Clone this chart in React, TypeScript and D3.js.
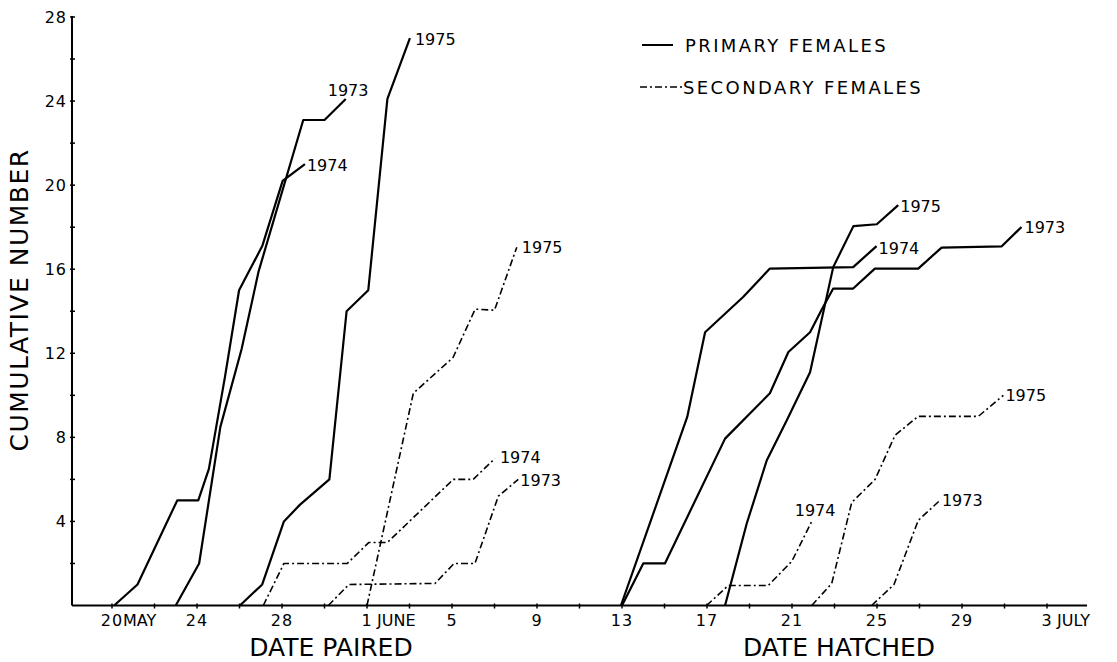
import React from 'react';
import * as d3 from 'd3';

// x values are days counted from 20 May (1 June = 12, 13 June = 24, 3 July = 44)
const primaryPaired1973: [number, number][] = [[3.0, 0], [4.1, 2], [5.1, 8.5], [6.1, 12.2], [6.9, 15.9], [9.0, 23.1], [10.0, 23.1], [11.0, 24.1]];
const primaryPaired1974: [number, number][] = [[0.1, 0], [1.2, 1], [3.07, 5], [4.06, 5], [4.56, 6.5], [5.32, 10.9], [5.98, 15.0], [7.07, 17.1], [8.03, 20.2], [9.08, 21]];
const primaryPaired1975: [number, number][] = [[6.02, 0], [7.07, 1], [8.09, 4], [8.85, 4.8], [10.23, 6], [11.04, 14], [12.06, 15], [12.96, 24.1], [14.02, 27]];

const secondaryPaired1973: [number, number][] = [[10.18, 0], [11.15, 1], [15.2, 1.05], [16.1, 2], [17.08, 2], [18.18, 5.2], [19.12, 6]];
const secondaryPaired1974: [number, number][] = [[7.12, 0], [8.09, 2], [11.07, 2], [12.09, 3], [12.96, 3], [16.06, 6], [17.0, 6], [18.02, 7]];
const secondaryPaired1975: [number, number][] = [[12.0, 0], [14.18, 10.1], [16.05, 11.8], [17.09, 14.1], [18.0, 14.05], [19.05, 17.05]];

const primaryHatched1973: [number, number][] = [[24.0, 0], [25.0, 2], [26.02, 2], [28.85, 7.94], [30.96, 10.1], [31.83, 12.06], [32.85, 13], [33.4, 14.08], [33.94, 15.08], [34.88, 15.08], [35.9, 16.03], [37.94, 16.03], [39.04, 17.03], [41.87, 17.09], [42.8, 18.01]];
const primaryHatched1974: [number, number][] = [[23.95, 0], [27.07, 8.97], [27.91, 13], [29.7, 14.68], [30.96, 16.03], [34.88, 16.1], [35.98, 17.1]];
const primaryHatched1975: [number, number][] = [[28.85, 0], [29.87, 3.9], [30.81, 6.9], [31.75, 8.8], [32.85, 11.1], [33.94, 16.1], [34.89, 18.05], [35.99, 18.14], [37.0, 19.05]];

const secondaryHatched1973: [number, number][] = [[35.75, 0], [36.8, 1], [37.94, 4.05], [38.96, 5]];
const secondaryHatched1974: [number, number][] = [[27.98, 0], [29.0, 0.95], [30.88, 0.95], [31.99, 2.1], [32.93, 4]];
const secondaryHatched1975: [number, number][] = [[32.93, 0], [33.87, 1.05], [34.81, 4.9], [35.91, 6], [36.85, 8.1], [37.94, 9], [40.77, 9], [41.95, 10]];

const dayTicks = [0, 4, 8, 12, 16, 20, 24, 28, 32, 36, 40, 44];
const dayTickNumbers = ['20', '24', '28', '1', '5', '9', '13', '17', '21', '25', '29', '3'];
const dayTickMonths = ['MAY', '', '', 'JUNE', '', '', '', '', '', '', '', 'JULY'];
const valueTicks = [4, 8, 12, 16, 20, 24, 28];

const FONT = '"DejaVu Sans", sans-serif';
const DASH = '7,3,2,3';

export default function App() {
  const width = 1117;
  const height = 662;

  const x = d3.scaleLinear().domain([0, 44]).range([112, 1047]);
  const y = d3.scaleLinear().domain([0, 28]).range([605.5, 17]);
  const line = d3.line<[number, number]>().x(d => x(d[0])).y(d => y(d[1]));

  // label offsets from the last point of each curve
  const series = [
    { data: primaryPaired1973, year: '1973', dash: false, dx: -18, dy: -3 },
    { data: primaryPaired1974, year: '1974', dash: false, dx: 2, dy: 7 },
    { data: primaryPaired1975, year: '1975', dash: false, dx: 5, dy: 7 },
    { data: secondaryPaired1973, year: '1973', dash: true, dx: 2, dy: 7 },
    { data: secondaryPaired1974, year: '1974', dash: true, dx: 5, dy: 5 },
    { data: secondaryPaired1975, year: '1975', dash: true, dx: 5, dy: 6 },
    { data: primaryHatched1973, year: '1973', dash: false, dx: 3, dy: 6 },
    { data: primaryHatched1974, year: '1974', dash: false, dx: 2, dy: 8 },
    { data: primaryHatched1975, year: '1975', dash: false, dx: 2, dy: 7 },
    { data: secondaryHatched1973, year: '1973', dash: true, dx: 2, dy: 6 },
    { data: secondaryHatched1974, year: '1974', dash: true, dx: -17, dy: -5 },
    { data: secondaryHatched1975, year: '1975', dash: true, dx: 2, dy: 6 },
  ];

  const minorDays = d3.range(0, 45, 2);
  const minorValues = d3.range(2, 29, 2);
  const x0 = 72;
  const y0 = y(0);

  return (
    <div style={{ position: 'absolute', left: 0, top: 0 }}>
      <svg width={width} height={height} style={{ display: 'block', background: '#fff' }}>
        {/* axes */}
        <line x1={x0} x2={x0} y1={y(28) - 1} y2={y0} stroke="#000" strokeWidth={2} />
        <line x1={x0} x2={1087} y1={y0} y2={y0} stroke="#000" strokeWidth={2} />
        {minorValues.map(v => (
          <line key={'yt' + v} x1={x0 - 2} x2={x0 + 3} y1={y(v)} y2={y(v)} stroke="#000" strokeWidth={1.5} />
        ))}
        {minorDays.map(d => (
          <line key={'xt' + d} x1={x(d)} x2={x(d)} y1={y0 - 2} y2={y0 + 3} stroke="#000" strokeWidth={1.5} />
        ))}
        {valueTicks.map(v => (
          <text key={'yl' + v} x={x0 - 5} y={y(v)} dy="0.36em" textAnchor="end" fontFamily={FONT} fontSize={16} letterSpacing={1}>{v}</text>
        ))}
        {dayTicks.map((d, i) => (
          <g key={'xl' + d} fontFamily={FONT} fontSize={16}>
            <text x={x(d)} y={626} textAnchor="middle" letterSpacing={1}>{dayTickNumbers[i]}</text>
            {dayTickMonths[i] && (
              <text x={x(d) + (dayTickNumbers[i].length === 1 ? 10 : 11)} y={626}>{dayTickMonths[i]}</text>
            )}
          </g>
        ))}

        {/* axis titles */}
        <text x={331} y={656} textAnchor="middle" fontFamily={FONT} fontSize={25}>DATE PAIRED</text>
        <text x={839} y={656} textAnchor="middle" fontFamily={FONT} fontSize={25}>DATE HATCHED</text>
        <text transform={`translate(28, 300) rotate(-90)`} textAnchor="middle" fontFamily={FONT} fontSize={25} letterSpacing={1.5}>CUMULATIVE NUMBER</text>

        {/* curves */}
        {series.map((s, i) => (
          <path key={'c' + i} d={line(s.data) || ''} fill="none" stroke="#000"
            strokeWidth={s.dash ? 1.6 : 2.2} strokeDasharray={s.dash ? DASH : undefined} strokeLinejoin="round" />
        ))}
        {series.map((s, i) => {
          const last = s.data[s.data.length - 1];
          return (
            <text key={'l' + i} x={x(last[0]) + s.dx} y={y(last[1]) + s.dy} fontFamily={FONT} fontSize={16}>{s.year}</text>
          );
        })}

        {/* legend */}
        <line x1={642} x2={673} y1={45} y2={45} stroke="#000" strokeWidth={2} />
        <text x={685} y={52} fontFamily={FONT} fontSize={18} letterSpacing={2.4}>PRIMARY FEMALES</text>
        <line x1={640} x2={682} y1={87} y2={87} stroke="#000" strokeWidth={1.6} strokeDasharray={DASH} />
        <text x={683} y={94} fontFamily={FONT} fontSize={18} letterSpacing={2.4}>SECONDARY FEMALES</text>
      </svg>
    </div>
  );
}
